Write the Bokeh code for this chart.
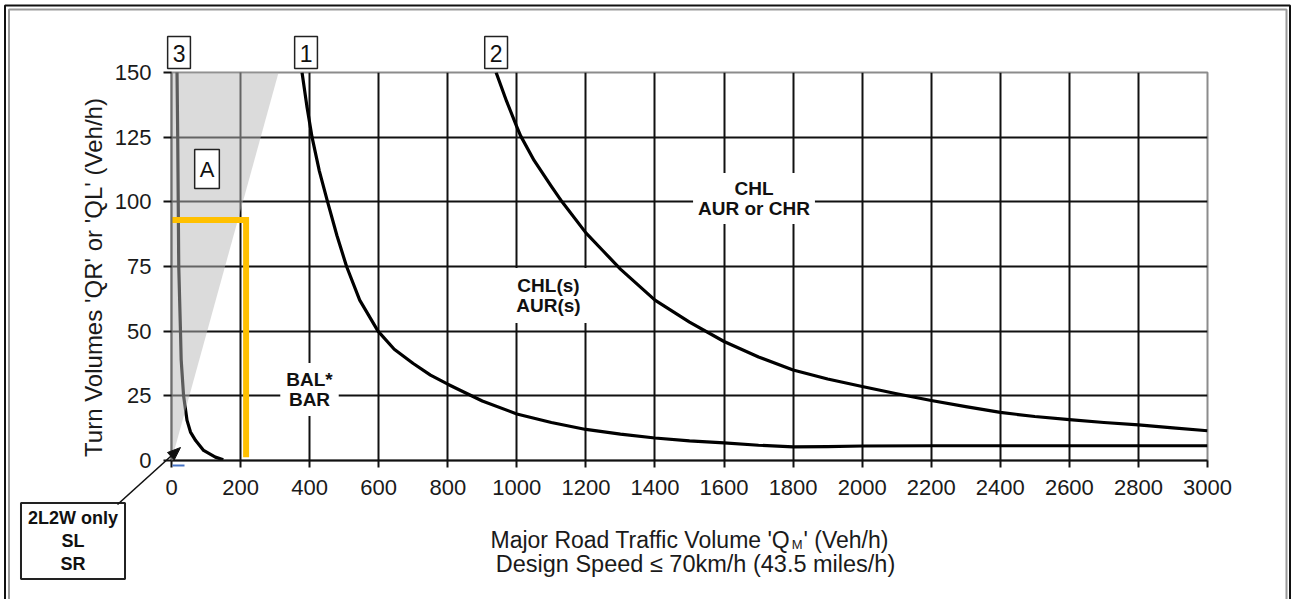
import math
from bokeh.plotting import figure
from bokeh.models import Label, FixedTicker, Range1d
from bokeh.core.properties import value
from bokeh.embed import file_html
from bokeh.resources import INLINE

# ---------------- data ----------------
x_ticks = list(range(0, 3001, 200))
y_ticks = list(range(0, 151, 25))

curve1_x = [378, 392, 407, 428, 452, 479, 507, 545, 598, 645, 700, 750, 800, 900, 1000, 1100, 1200,
            1300, 1400, 1500, 1600, 1700, 1800, 1900, 2000, 2200, 2600, 3000]
curve1_y = [150, 137, 125, 112, 100, 87, 75, 62, 50, 43, 37.5, 33, 29.5, 23, 18, 14.7, 12,
            10.2, 8.7, 7.6, 6.8, 5.9, 5.3, 5.4, 5.6, 5.7, 5.7, 5.7]

curve2_x = [940, 970, 1000, 1011, 1050, 1100, 1131, 1200, 1250, 1300, 1400, 1500, 1600, 1700, 1800,
            1900, 2000, 2100, 2200, 2300, 2400, 2500, 2600, 2700, 2800, 2900, 3000]
curve2_y = [150, 139, 129, 125.5, 116, 106, 100, 88, 81, 74, 62, 53.5, 46, 40, 35,
            31.5, 28.6, 25.8, 23.2, 20.8, 18.6, 17, 15.8, 14.7, 13.8, 12.6, 11.5]

curve3_x = [16, 18, 19.5, 21, 26, 28, 35, 45, 55, 70, 93, 127, 150]
curve3_y = [150, 125, 100, 75, 50, 39, 25, 15.5, 11, 7.7, 3.9, 1.3, 0.3]

zone_a_x = [0, 0, 310]
zone_a_y = [0, 150, 150]

limit_x = [0, 216, 216]
limit_y = [93, 93, 1.3]

curve_labels = ["1", "2", "3"]
zone_labels = ["A", "BAL*\nBAR", "CHL(s)\nAUR(s)", "CHL\nAUR or CHR", "2L2W only\nSL\nSR"]
x_title_parts = ["Major Road Traffic Volume 'Q", "M", "' (Veh/h)"]
x_title_line2 = "Design Speed \u2264 70km/h (43.5 miles/h)"
y_title = "Turn Volumes 'QR' or 'QL' (Veh/h)"

# ---------------- layout ----------------
W, H = 1291, 599
FL, FT, FW, FH = 171, 72, 1036, 388
XMAX, YMAX = 3000, 150
FONT = "Liberation Sans"
VF = value(FONT)


def dx(px):
    return (px - FL) / FW * XMAX


def dy(py):
    return (FT + FH - py) / FH * YMAX


ARIAL = {" ": 278, "'": 191, "(": 333, ")": 333, "/": 278, "M": 833, "Q": 778, "R": 722,
         "T": 611, "V": 667, "a": 556, "c": 500, "d": 556, "e": 556, "f": 278, "h": 556,
         "i": 222, "j": 222, "l": 222, "m": 833, "o": 556, "r": 333, "u": 556}


def text_w(s, size):
    return sum(ARIAL.get(ch, 556) for ch in s) / 1000 * size


p = figure(width=W, height=H, output_backend="svg", toolbar_location=None,
           x_range=Range1d(0, XMAX), y_range=Range1d(0, YMAX),
           min_border_left=FL, min_border_top=FT,
           min_border_right=W - FL - FW, min_border_bottom=H - FT - FH)
p.background_fill_color = "white"
p.border_fill_color = "white"
p.outline_line_color = "#8c8c8c"
p.outline_line_width = 2

for ax in (p.xaxis[0], p.yaxis[0]):
    ax.major_label_text_font = FONT
    ax.major_label_text_font_size = "22px"
    ax.major_label_text_color = "#1a1a1a"
    ax.minor_tick_line_color = None
    ax.major_tick_in = 0
    ax.major_tick_line_width = 2
    ax.major_tick_line_color = "#111111"
    ax.axis_line_width = 2
    ax.major_label_standoff = 12

p.xaxis.ticker = FixedTicker(ticks=x_ticks)
p.yaxis.ticker = FixedTicker(ticks=y_ticks)
p.xaxis.major_tick_out = 7
p.yaxis.major_tick_out = 8
p.xaxis.axis_line_color = "#111111"
p.yaxis.axis_line_color = "#6e6e6e"

p.xgrid.ticker = FixedTicker(ticks=x_ticks[1:-1])
p.ygrid.ticker = FixedTicker(ticks=y_ticks[1:-1])
for g in (p.xgrid[0], p.ygrid[0]):
    g.grid_line_color = "#111111"
    g.grid_line_width = 2

# curves
for cx, cy in ((curve1_x, curve1_y), (curve2_x, curve2_y), (curve3_x, curve3_y)):
    p.line(cx, cy, line_color="black", line_width=3.2, line_join="round")

# shaded zone A (translucent overlay)
p.patch(zone_a_x, zone_a_y, fill_color="#b8b8b8", fill_alpha=0.5, line_color=None)

# orange limit line
p.line(limit_x, limit_y, line_color="#FFC000", line_width=6, line_join="miter")

# ---- in-frame labels ----
p.add_layout(Label(x=dx(206.5), y=dy(168.5), text=zone_labels[0], text_font=FONT, text_font_size="22px",
                   text_color="#111111", text_align="center", text_baseline="middle",
                   background_fill_color="white", border_line_color="#222222",
                   border_line_width=1.5, padding=dict(left=5, right=5, top=7, bottom=7)))
bold = dict(text_font=FONT, text_font_size="19px", text_font_style="bold", text_color="#111111",
            text_align="center", text_baseline="middle", text_line_height=0.95,
            background_fill_color="white")
p.add_layout(Label(x=dx(309), y=dy(389), text=zone_labels[1], padding=6, **bold))
p.add_layout(Label(x=dx(548), y=dy(295), text=zone_labels[2], padding=7, **bold))
p.add_layout(Label(x=dx(753.5), y=dy(198), text=zone_labels[3], padding=5, **bold))

# ---- outside-frame elements: glyphs on the overlay level (not clipped) ----
OV = "overlay"
# curve number boxes
p.text(x=[curve1_x[0], curve2_x[0], curve3_x[0]], y=[YMAX] * 3, text=curve_labels,
       x_offset=[4, 0, 2], y_offset=-4, text_font=VF, text_font_size="23px",
       text_color="#111111", text_align="center", text_baseline="bottom",
       background_fill_color="white", border_line_color="#222222", border_line_width=1.5,
       padding=dict(left=5, right=5, top=8, bottom=7), level=OV)

# 2L2W box
p.text(x=[dx(72.5)], y=[dy(540.5)], text=[zone_labels[4]], text_font=VF, text_font_size="18px",
       text_font_style="bold", text_color="#111111", text_align="center", text_baseline="middle",
       text_line_height=1.15, background_fill_color="white", border_line_color="#222222",
       border_line_width=2, padding=dict(left=7, right=7, top=5, bottom=5), level=OV)

# pointer arrow
sx0, sy0, sx1, sy1 = 117, 504, 180, 447
L = math.hypot(sx1 - sx0, sy1 - sy0)
ux, uy = (sx1 - sx0) / L, (sy1 - sy0) / L
bx, by = sx1 - 13 * ux, sy1 - 13 * uy
nx, ny = -uy, ux
p.segment(x0=[dx(sx0)], y0=[dy(sy0)], x1=[dx(bx)], y1=[dy(by)], line_color="#111111",
          line_width=1.6, level=OV)
p.patch([dx(sx1), dx(bx + 5 * nx), dx(bx - 5 * nx)], [dy(sy1), dy(by + 5 * ny), dy(by - 5 * ny)],
        fill_color="#111111", line_color="#111111", level=OV)

# small blue mark under origin
p.segment(x0=[dx(172)], y0=[dy(465)], x1=[dx(184)], y1=[dy(465)], line_color="#4472C4",
          line_width=2, level=OV)

# axis titles
TFS = 23
SFS = 13
x0 = 490
title_style = dict(text_font=VF, text_color="#1a1a1a", text_align="left", text_baseline="alphabetic", level=OV)
p.text(x=[dx(x0)], y=[dy(539)], text=[x_title_parts[0]], text_font_size=f"{TFS}px", **title_style)
x1 = x0 + text_w(x_title_parts[0], TFS) - 1
p.text(x=[dx(x1)], y=[dy(544)], text=[x_title_parts[1]], text_font_size=f"{SFS}px", **title_style)
x2 = x1 + text_w(x_title_parts[1], SFS) + 1
p.text(x=[dx(x2)], y=[dy(539)], text=[x_title_parts[2]], text_font_size=f"{TFS}px", **title_style)
p.text(x=[dx(695)], y=[dy(563)], text=[x_title_line2], text_font=VF, text_font_size="23.5px",
       text_color="#1a1a1a", text_align="center", text_baseline="alphabetic", level=OV)
p.text(x=[dx(93)], y=[dy(277)], text=[y_title], angle=math.pi / 2, text_font=VF,
       text_font_size="24px", text_color="#1a1a1a", text_align="center",
       text_baseline="middle", level=OV)

# outer double frame
p.quad(left=[dx(4.5)], right=[dx(1289.5)], top=[dy(5)], bottom=[dy(700)], fill_color=None,
       line_color="#111111", line_width=2, level=OV)
p.quad(left=[dx(8.5)], right=[dx(1286)], top=[dy(9)], bottom=[dy(700)], fill_color=None,
       line_color="#9a9a9a", line_width=2, level=OV)

open("out.html", "w").write(file_html(p, INLINE))
